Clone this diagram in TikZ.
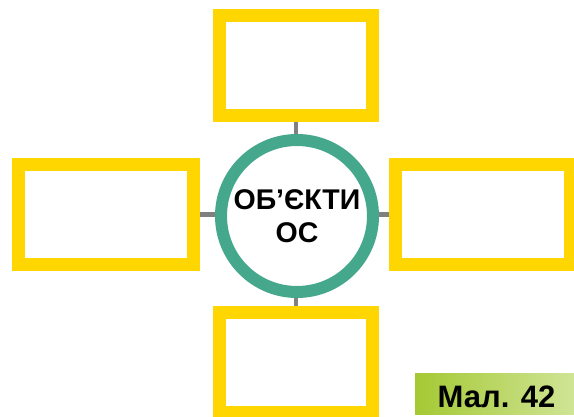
\documentclass[tikz,border=0pt]{standalone}
\usepackage{fontspec}
\setmainfont{Liberation Sans}
\definecolor{boxyellow}{RGB}{255,214,0}
\definecolor{ringgreen}{RGB}{69,168,140}
\definecolor{linkgray}{RGB}{128,128,128}
\definecolor{tagleft}{RGB}{164,201,52}
\definecolor{tagright}{RGB}{208,228,150}
\tikzset{
  emptybox/.style={draw=boxyellow, line width=13pt, fill=white, rectangle,
    minimum width=153pt, minimum height=100pt, inner sep=0pt},
  hub/.style={draw=ringgreen, line width=12pt, fill=white, circle,
    minimum size=152pt, inner sep=0pt, align=center,
    font=\fontsize{28.5}{33}\selectfont\bfseries},
  link/.style={draw=linkgray, line width=4.5pt},
  tag/.style={font=\fontsize{31}{34}\selectfont\bfseries}
}
\begin{document}
\begin{tikzpicture}[x=1pt,y=-1pt]
  \useasboundingbox (0,0) rectangle (574,417);
  \begin{scope}
    \clip (0,0) rectangle (574,417);
    % central circle and the four boxes around it
    \node[hub] (c) at (297,216) {ОБ’ЄКТИ\\ОС};
    \node[emptybox] (top) at (296,65.5) {};
    \node[emptybox, minimum width=175pt] (left) at (106,214.5) {};
    \node[emptybox, minimum width=175pt] (right) at (483,214.5) {};
    \node[emptybox] (bottom) at (296,362.5) {};
    % short connectors from the circle to the boxes
    \draw[link] (top.south) -- (top.south |- c.north);
    \draw[link] (bottom.north) -- (bottom.north |- c.south);
    \draw[link] (left.east) -- (c.west |- left.east);
    \draw[link] (right.west) -- (c.east |- right.west);
    % figure caption
    \shade[left color=tagleft, right color=tagright] (415,374) rectangle (574,414);
    \node[tag, anchor=base] (caption) at (496.5,407) {Мал. 42};
  \end{scope}
\end{tikzpicture}
\end{document}
